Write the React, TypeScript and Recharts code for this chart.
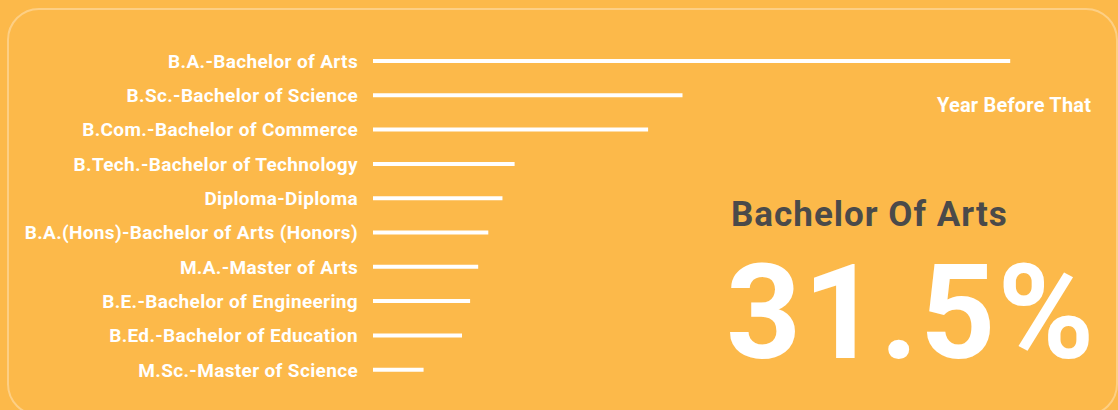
import React from "react";
import { BarChart, Bar, XAxis, YAxis } from "recharts";

const categories = [
  "B.A.-Bachelor of Arts",
  "B.Sc.-Bachelor of Science",
  "B.Com.-Bachelor of Commerce",
  "B.Tech.-Bachelor of Technology",
  "Diploma-Diploma",
  "B.A.(Hons)-Bachelor of Arts (Honors)",
  "M.A.-Master of Arts",
  "B.E.-Bachelor of Engineering",
  "B.Ed.-Bachelor of Education",
  "M.Sc.-Master of Science",
];
const shares = [31.5, 15.3, 13.6, 7.0, 6.4, 5.7, 5.2, 4.8, 4.4, 2.5];
const periodLabel = "Year Before That";
const topName = "Bachelor Of Arts";
const topValue = "31.5%";

const data = categories.map((name, i) => ({ name, value: shares[i] }));

const BG = "#FCB94A";
const FONT = "Roboto, 'Open Sans', sans-serif";

export default function App() {
  return (
    <div
      style={{
        position: "absolute",
        left: 0,
        top: 0,
        width: 1118,
        height: 410,
        background: BG,
        overflow: "hidden",
        fontFamily: FONT,
      }}
    >
      <div
        style={{
          position: "absolute",
          left: 7,
          top: 8,
          width: 1107,
          height: 404,
          borderRadius: 32,
          border: "2px solid rgba(255,255,255,0.32)",
        }}
      />
      <div style={{ position: "absolute", left: 0, top: 0 }}>
        <BarChart
          width={1118}
          height={410}
          data={data}
          layout="vertical"
          margin={{ top: 44, right: 37, bottom: 23, left: 0 }}
          barCategoryGap={0}
        >
          <XAxis type="number" hide domain={[0, 35]} />
          <YAxis
            type="category"
            dataKey="name"
            width={373}
            axisLine={false}
            tickLine={false}
            tickSize={0}
            tickMargin={15}
            interval={0}
            tick={{
              fill: "#ffffff",
              fontSize: 19,
              fontWeight: 700,
              fontFamily: FONT,
              letterSpacing: 0.35,
            }}
          />
          <Bar dataKey="value" fill="#ffffff" barSize={4} isAnimationActive={false} />
        </BarChart>
      </div>
      <div
        style={{
          position: "absolute",
          left: 937,
          top: 95,
          color: "#ffffff",
          fontSize: 20,
          lineHeight: "20px",
          fontWeight: 700,
          letterSpacing: 0.2,
          whiteSpace: "nowrap",
        }}
      >
        {periodLabel}
      </div>
      <div
        style={{
          position: "absolute",
          left: 731,
          top: 197,
          color: "#4a4a4a",
          fontSize: 35,
          lineHeight: "35px",
          fontWeight: 700,
          letterSpacing: 1,
          whiteSpace: "nowrap",
        }}
      >
        {topName}
      </div>
      <div
        style={{
          position: "absolute",
          left: 726,
          top: 263,
          color: "#ffffff",
          fontSize: 131,
          fontWeight: 700,
          letterSpacing: 2,
          lineHeight: "100px",
          whiteSpace: "nowrap",
        }}
      >
        {topValue}
      </div>
    </div>
  );
}
